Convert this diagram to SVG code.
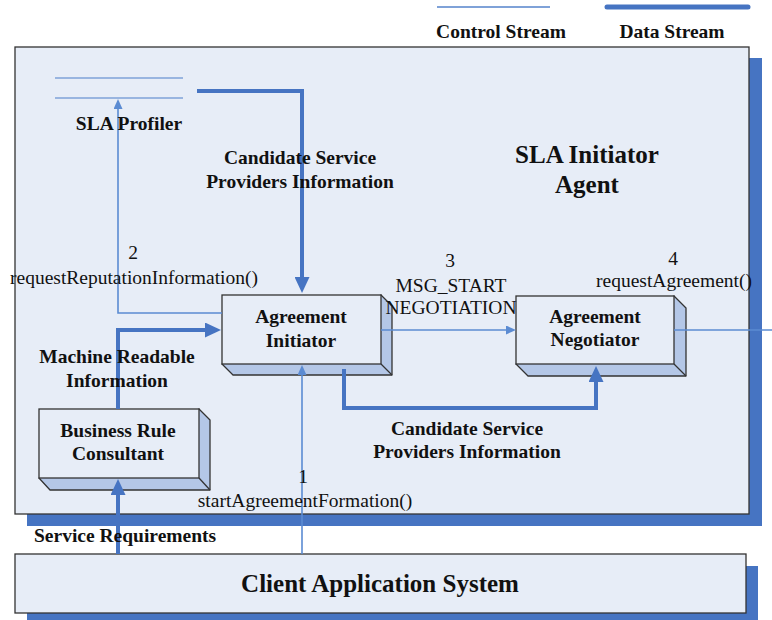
<svg xmlns="http://www.w3.org/2000/svg" width="772" height="620" viewBox="0 0 772 620">
  <style>
    .txt { font-family: "Liberation Serif", "Times New Roman", serif; fill: #111; }
    .b { font-weight: bold; font-size: 19.5px; }
    .r { font-size: 19.5px; }
    .big { font-weight: bold; font-size: 25px; }
    .face { fill: #e7edf7; stroke: #333; stroke-width: 1.3; }
    .side { fill: #b4c7e7; stroke: #333; stroke-width: 1.3; stroke-linejoin: round; }
    .data { fill: none; stroke: #4674c2; stroke-width: 4; }
    .ctrl { fill: none; stroke: #5b8bd2; stroke-width: 1.6; }
    .store { stroke: #7fa2d8; stroke-width: 1.6; }
  </style>
  <defs>
    <marker id="arrowData" markerUnits="userSpaceOnUse" markerWidth="16" markerHeight="15" refX="10" refY="7.5" orient="auto">
      <path d="M0,0 L16,7.5 L0,15 z" fill="#4674c2"/>
    </marker>
    <marker id="arrowCtrl" markerUnits="userSpaceOnUse" markerWidth="10" markerHeight="9" refX="7" refY="4.5" orient="auto">
      <path d="M0,0 L10,4.5 L0,9 z" fill="#5b8bd2"/>
    </marker>
  </defs>

  <rect width="772" height="620" fill="#ffffff"/>

  <!-- legend -->
  <g id="legend">
    <line x1="437" y1="7" x2="550" y2="7" stroke="#7fa2d8" stroke-width="2"/>
    <line x1="607" y1="7" x2="748" y2="7" stroke="#4674c2" stroke-width="5" stroke-linecap="round"/>
    <text class="txt b" x="501" y="38" text-anchor="middle">Control Stream</text>
    <text class="txt b" x="672" y="38" text-anchor="middle">Data Stream</text>
  </g>

  <!-- agent boundary -->
  <g id="sla-initiator-agent">
    <rect x="27" y="58" width="735" height="468" fill="#4674c2"/>
    <rect x="15" y="47" width="734" height="467" class="face"/>
    <text class="txt big" x="587" y="163" text-anchor="middle">SLA Initiator</text>
    <text class="txt big" x="587" y="193" text-anchor="middle">Agent</text>
  </g>

  <!-- client system -->
  <g id="client-application-system">
    <rect x="27" y="566" width="731" height="60" fill="#4674c2"/>
    <rect x="15" y="554" width="731" height="59" class="face"/>
    <text class="txt big" x="380" y="592" text-anchor="middle">Client Application System</text>
  </g>

  <!-- 3D boxes -->
  <g id="agreement-initiator">
    <path class="side" d="M381,295 L392,306 L392,375 L233,375 L222,364 Z"/>
    <line x1="381" y1="364" x2="392" y2="375" stroke="#333" stroke-width="1.3"/>
    <rect x="222" y="295" width="159" height="69" class="face"/>
    <text class="txt b" x="301" y="323" text-anchor="middle">Agreement</text>
    <text class="txt b" x="301" y="347" text-anchor="middle">Initiator</text>
  </g>

  <g id="agreement-negotiator">
    <path class="side" d="M674,296 L686,308 L686,376 L528,376 L516,364 Z"/>
    <line x1="674" y1="364" x2="686" y2="376" stroke="#333" stroke-width="1.3"/>
    <rect x="516" y="296" width="158" height="68" class="face"/>
    <text class="txt b" x="595" y="323" text-anchor="middle">Agreement</text>
    <text class="txt b" x="595" y="346" text-anchor="middle">Negotiator</text>
  </g>

  <g id="business-rule-consultant">
    <path class="side" d="M199,409 L210,420 L210,490 L50,490 L39,478 Z"/>
    <line x1="199" y1="478" x2="210" y2="490" stroke="#333" stroke-width="1.3"/>
    <rect x="39" y="409" width="160" height="69" class="face"/>
    <text class="txt b" x="118" y="437" text-anchor="middle">Business Rule</text>
    <text class="txt b" x="118" y="460" text-anchor="middle">Consultant</text>
  </g>

  <!-- streams -->
  <g id="connectors">
    <path class="data" d="M197,91 H302 V287" marker-end="url(#arrowData)"/>
    <path class="data" d="M118,409 V330 H215" marker-end="url(#arrowData)"/>
    <path class="data" d="M344,369 V408 H596 V372" marker-end="url(#arrowData)"/>
    <path class="data" d="M118,554 V485" marker-end="url(#arrowData)"/>
    <path class="ctrl" d="M222,313 H118 V102" marker-end="url(#arrowCtrl)"/>
    <path class="ctrl" d="M381,330 H513" marker-end="url(#arrowCtrl)"/>
    <path class="ctrl" d="M302,554 V368" marker-end="url(#arrowCtrl)"/>
    <path class="ctrl" d="M674,330 H772"/>
  </g>

  <!-- data store -->
  <g id="sla-profiler">
    <line class="store" x1="55" y1="78" x2="183" y2="78"/>
    <line class="store" x1="55" y1="98" x2="183" y2="98"/>
    <text class="txt b" x="129" y="130" text-anchor="middle">SLA Profiler</text>
  </g>

  <!-- stream labels -->
  <g id="labels">
    <text class="txt b" x="300" y="164" text-anchor="middle">Candidate Service</text>
    <text class="txt b" x="300" y="188" text-anchor="middle">Providers Information</text>
    <text class="txt r" x="133" y="259" text-anchor="middle">2</text>
    <text class="txt r" x="134" y="284" text-anchor="middle">requestReputationInformation()</text>
    <text class="txt r" x="450" y="267" text-anchor="middle">3</text>
    <text class="txt r" x="451" y="292" text-anchor="middle">MSG_START</text>
    <text class="txt r" x="451" y="314" text-anchor="middle">NEGOTIATION</text>
    <text class="txt r" x="673" y="265" text-anchor="middle">4</text>
    <text class="txt r" x="674" y="287" text-anchor="middle">requestAgreement()</text>
    <text class="txt b" x="117" y="363" text-anchor="middle">Machine Readable</text>
    <text class="txt b" x="117" y="387" text-anchor="middle">Information</text>
    <text class="txt b" x="467" y="435" text-anchor="middle">Candidate Service</text>
    <text class="txt b" x="467" y="458" text-anchor="middle">Providers Information</text>
    <text class="txt r" x="303" y="483" text-anchor="middle">1</text>
    <text class="txt r" x="305" y="507" text-anchor="middle">startAgreementFormation()</text>
    <text class="txt b" x="34" y="542">Service Requirements</text>
  </g>
</svg>
